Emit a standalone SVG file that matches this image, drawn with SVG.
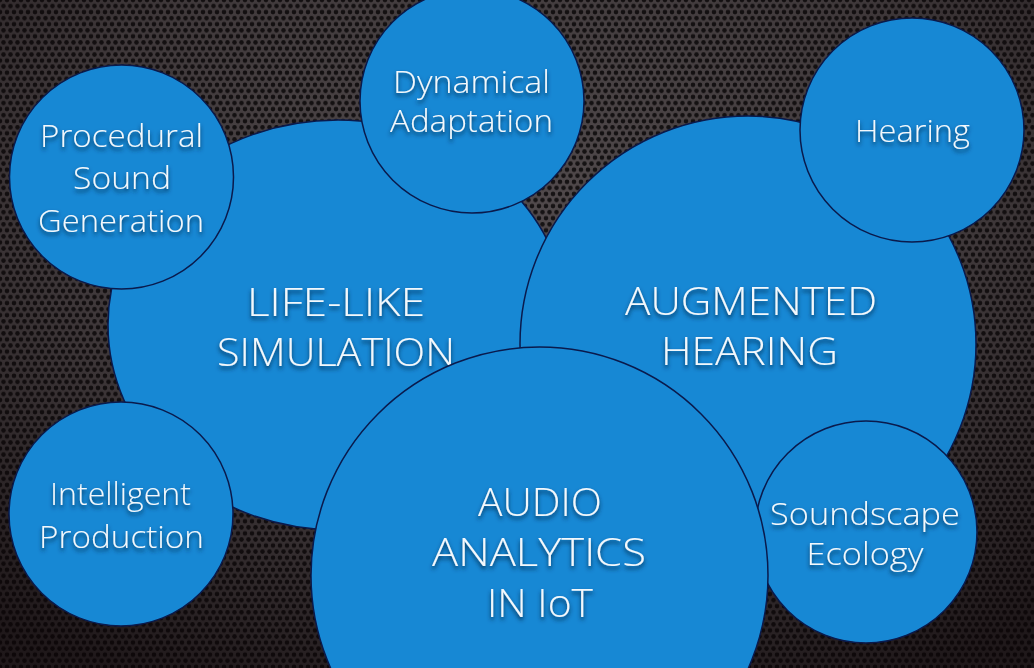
<svg xmlns="http://www.w3.org/2000/svg" width="1034" height="668" viewBox="0 0 1034 668">
  <defs>
    <pattern id="mesh" width="7" height="12.124" patternUnits="userSpaceOnUse">
      <rect width="7" height="12.124" fill="#514a4c"/>
      <circle cx="0" cy="0" r="2.3" fill="#161314"/>
      <circle cx="7" cy="0" r="2.3" fill="#161314"/>
      <circle cx="3.5" cy="6.062" r="2.3" fill="#161314"/>
      <circle cx="0" cy="12.124" r="2.3" fill="#161314"/>
      <circle cx="7" cy="12.124" r="2.3" fill="#161314"/>
    </pattern>
    <radialGradient id="vignette" cx="0.5" cy="0.3" r="0.8">
      <stop offset="0" stop-color="#000" stop-opacity="0"/>
      <stop offset="0.55" stop-color="#0a0406" stop-opacity="0.25"/>
      <stop offset="1" stop-color="#0a0305" stop-opacity="0.7"/>
    </radialGradient>
    <filter id="shadow" x="-10%" y="-30%" width="120%" height="180%">
      <feDropShadow dx="0" dy="3" stdDeviation="2.2" flood-color="#062f52" flood-opacity="1"/>
    </filter>
  </defs>
  <style>
    .bubble { fill: #1788d4; stroke: #0a1a4c; stroke-width: 1.5; }
    .lbl { fill: #f3f8fc; font-family: "Open Sans", "Lato", "Liberation Sans", sans-serif; font-weight: 300; text-anchor: middle; filter: url(#shadow); }
    .sm { font-size: 31px; }
    .lg { font-size: 39px; }
  </style>

  <rect width="1034" height="668" fill="url(#mesh)"/>
  <rect width="1034" height="668" fill="url(#vignette)"/>

  <g id="connectors"/>

  <g id="life-like-simulation">
    <ellipse class="bubble" cx="338" cy="325" rx="230" ry="205"/>
    <text class="lbl lg" x="336" y="316" textLength="178" lengthAdjust="spacingAndGlyphs">LIFE-LIKE</text>
    <text class="lbl lg" x="336" y="366" textLength="238" lengthAdjust="spacingAndGlyphs">SIMULATION</text>
  </g>

  <g id="augmented-hearing">
    <circle class="bubble" cx="748" cy="344" r="228"/>
    <text class="lbl lg" x="751" y="315" textLength="252" lengthAdjust="spacingAndGlyphs">AUGMENTED</text>
    <text class="lbl lg" x="749.5" y="365" textLength="177" lengthAdjust="spacingAndGlyphs">HEARING</text>
  </g>

  <g id="procedural-sound-generation">
    <circle class="bubble" cx="121.5" cy="177" r="112"/>
    <text class="lbl sm" x="121.5" y="147" textLength="163" lengthAdjust="spacingAndGlyphs">Procedural</text>
    <text class="lbl sm" x="122" y="188.5" textLength="98" lengthAdjust="spacingAndGlyphs">Sound</text>
    <text class="lbl sm" x="121" y="231.5" textLength="166" lengthAdjust="spacingAndGlyphs">Generation</text>
  </g>

  <g id="dynamical-adaptation">
    <circle class="bubble" cx="472" cy="101" r="112"/>
    <text class="lbl sm" x="471.5" y="93" textLength="157" lengthAdjust="spacingAndGlyphs">Dynamical</text>
    <text class="lbl sm" x="471.5" y="132" textLength="163" lengthAdjust="spacingAndGlyphs">Adaptation</text>
  </g>

  <g id="hearing">
    <circle class="bubble" cx="912" cy="130" r="112"/>
    <text class="lbl sm" x="912.5" y="142" textLength="115" lengthAdjust="spacingAndGlyphs">Hearing</text>
  </g>

  <g id="intelligent-production">
    <circle class="bubble" cx="121" cy="514" r="112"/>
    <text class="lbl sm" x="120.5" y="505" textLength="141" lengthAdjust="spacingAndGlyphs">Intelligent</text>
    <text class="lbl sm" x="121.5" y="548" textLength="165" lengthAdjust="spacingAndGlyphs">Production</text>
  </g>

  <g id="soundscape-ecology">
    <circle class="bubble" cx="866" cy="532" r="111"/>
    <text class="lbl sm" x="865" y="525" textLength="190" lengthAdjust="spacingAndGlyphs">Soundscape</text>
    <text class="lbl sm" x="865" y="565" textLength="117" lengthAdjust="spacingAndGlyphs">Ecology</text>
  </g>

  <g id="audio-analytics-in-iot">
    <circle class="bubble" cx="539.5" cy="575.5" r="228.5"/>
    <text class="lbl lg" x="540" y="516" textLength="124" lengthAdjust="spacingAndGlyphs">AUDIO</text>
    <text class="lbl lg" x="539" y="566" textLength="214" lengthAdjust="spacingAndGlyphs">ANALYTICS</text>
    <text class="lbl lg" x="540" y="617" textLength="106" lengthAdjust="spacingAndGlyphs">IN IoT</text>
  </g>
</svg>
